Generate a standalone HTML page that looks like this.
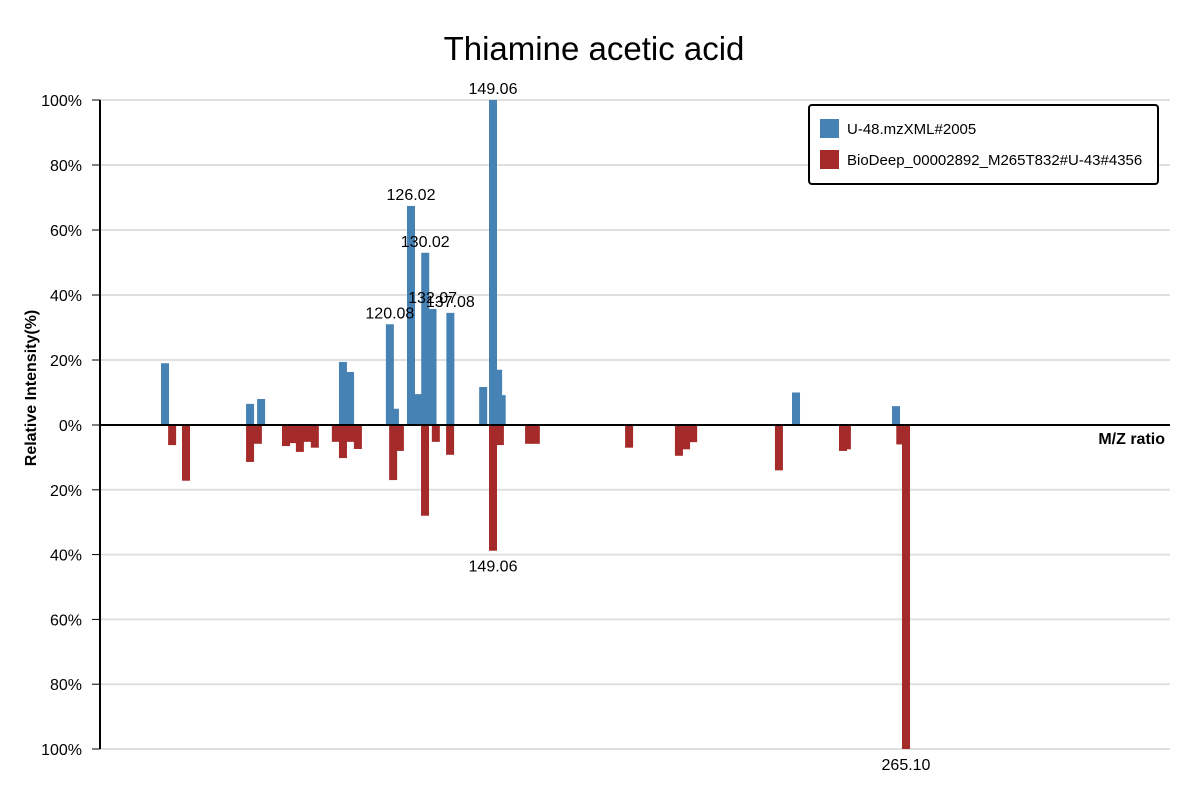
<!DOCTYPE html>
<html><head><meta charset="utf-8"><style>
body{margin:0;background:#fff;font-family:"Liberation Sans","DejaVu Sans",sans-serif}
svg text{font-family:"Liberation Sans","DejaVu Sans",sans-serif}
</style></head><body>
<svg id="chart" width="1200" height="800" xmlns="http://www.w3.org/2000/svg">
<text x="594" y="60" font-size="33" text-anchor="middle" fill="#000">Thiamine acetic acid</text>
<g id="grid"></g>
<g id="bars"></g>
<g id="labels"></g>
<line x1="100" y1="100" x2="100" y2="749" stroke="#000" stroke-width="2"/>
<line x1="100" y1="425" x2="1170" y2="425" stroke="#000" stroke-width="2"/>
<g id="yticks"></g>
<text x="1165" y="444" font-size="16" font-weight="bold" text-anchor="end">M/Z ratio</text>
<text transform="translate(36,388) rotate(-90)" font-size="16" font-weight="bold" text-anchor="middle">Relative Intensity(%)</text>
<g>
<rect x="809" y="105" width="349" height="79" rx="3" fill="#fff" stroke="#000" stroke-width="2"/>
<rect x="820" y="119" width="19" height="19" fill="#4682b4"/>
<text x="847" y="134" font-size="15">U-48.mzXML#2005</text>
<rect x="820" y="150" width="19" height="19" fill="#a52a2a"/>
<text x="847" y="165" font-size="15">BioDeep_00002892_M265T832#U-43#4356</text>
</g>
</svg>
<script>
const sampleMz=[56.9,80.8,83.9,106.9,108.9,120.08,121.5,126.02,127.0,128.0,130.02,132.07,137.08,146.3,149.06,150.5,151.5,234.2,262.3];
const sampleInt=[19,6.5,8,19.4,16.3,31,5,67.4,6.8,9.5,53,35.7,34.5,11.7,100,17,9.2,10,5.8];
const refMz=[58.9,62.8,80.8,83.0,90.9,92.6,94.8,96.8,99.0,104.9,106.9,108.9,111.1,121.0,122.9,129.96,133.0,137.0,149.06,151.0,159.2,161.1,187.3,201.3,203.3,205.3,229.4,247.4,248.5,263.5,265.10];
const refInt=[6.2,17.2,11.4,5.8,6.5,5.6,8.3,5.2,7,5.2,10.2,5.2,7.4,17,8,28,5.2,9.2,38.8,6.2,5.8,5.8,7,9.5,7.5,5.3,14,8,7.5,6,100];
const sampleLabels=["120.08","126.02","130.02","132.07","137.08","149.06"];
const refLabels=["149.06","265.10"];
const yTicks=[100,80,60,40,20,0,20,40,60,80,100];
const X0=425,TOP=100,BOT=749;
const xs=m=>493+(m-149.06)*3.559;
const yUp=v=>X0-v/100*(X0-TOP);
const yDn=v=>X0+v/100*(BOT-X0);
const NS="http://www.w3.org/2000/svg";
function mk(t,a,p){const e=document.createElementNS(NS,t);for(const k in a)e.setAttribute(k,a[k]);p.appendChild(e);return e;}
const grid=document.getElementById('grid'),yt=document.getElementById('yticks'),bars=document.getElementById('bars'),lab=document.getElementById('labels');
yTicks.forEach((v,i)=>{const y=i<=5?yUp(v):yDn(v);
 const g=mk('line',{x1:100,x2:1170,y1:y,y2:y,stroke:'#e0e0e0','stroke-width':2},grid);
 
 
 const tk=mk('line',{x1:92,x2:100,y1:y,y2:y,stroke:'#000','stroke-width':1},yt);
 
 
 const t=mk('text',{x:82,y:y+6,'font-size':16,'text-anchor':'end'},yt);t.textContent=v+'%';
 
 
});
refMz.forEach((m,i)=>{const x=xs(m);
 const r=mk('rect',{x:x-4,y:X0,width:8,height:yDn(refInt[i])-X0,fill:'#a52a2a'},bars);
 
 
});
sampleMz.forEach((m,i)=>{const x=xs(m);
 const r=mk('rect',{x:x-4,y:yUp(sampleInt[i]),width:8,height:X0-yUp(sampleInt[i]),fill:'#4682b4'},bars);
 
 
});
sampleLabels.forEach(l=>{const m=parseFloat(l);const i=sampleMz.indexOf(m);
 const t=mk('text',{x:xs(m),y:yUp(sampleInt[i])-6,'font-size':16,'text-anchor':'middle'},lab);t.textContent=l;
 
 
});
refLabels.forEach(l=>{const m=parseFloat(l);const i=refMz.indexOf(m);
 const t=mk('text',{x:xs(m),y:yDn(refInt[i])+21,'font-size':16,'text-anchor':'middle'},lab);t.textContent=l;
 
 
});
</script>
</body></html>
